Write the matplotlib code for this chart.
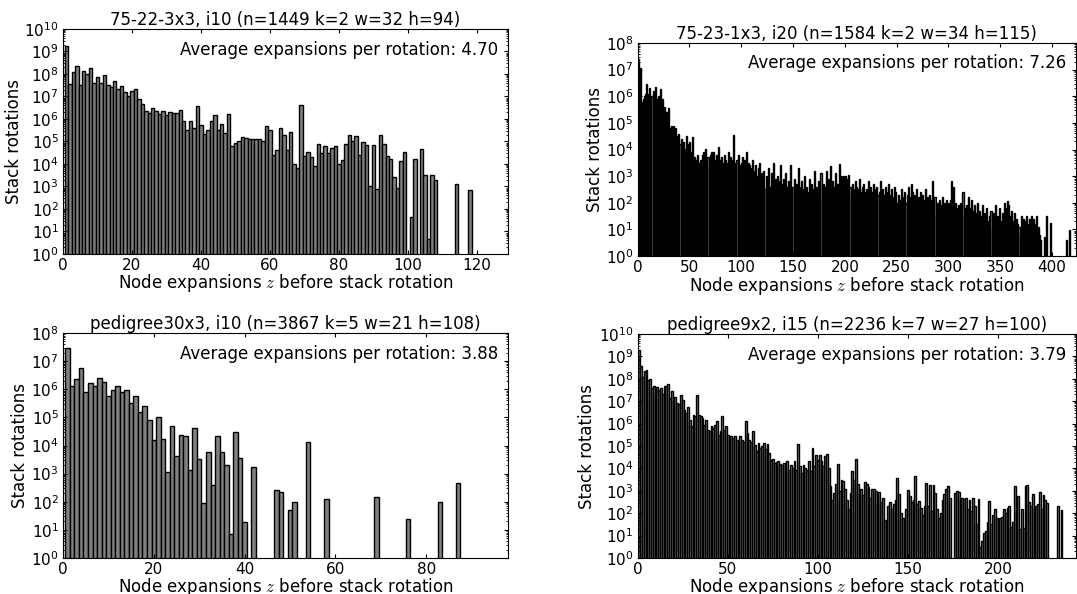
import numpy as np
import matplotlib
matplotlib.use('Agg')
import matplotlib.pyplot as plt
from matplotlib.ticker import LogLocator, NullFormatter

plt.rcParams['font.family'] = ['DejaVu Sans']
plt.rcParams['mathtext.fontset'] = 'cm'

# ---------------- data (log10 of stack-rotation counts, z = 1, 2, ...; 0 = empty bin) -------------
tl_title = "75-22-3x3, i10 (n=1449 k=2 w=32 h=94)"
tl_avg = "4.70"
tl_exp = [
    9.26, 7.54, 8.07, 8.35, 7.5, 8.15, 7.98, 8.28, 7.6, 7.86,
    7.62, 7.94, 7.5, 7.42, 7.69, 7.33, 7.45, 7.18, 7.0, 7.24,
    7.33, 6.88, 6.66, 6.34, 6.26, 6.48, 6.37, 6.23, 6.34, 6.19,
    6.29, 6.26, 6.26, 6.4, 5.93, 5.52, 5.9, 5.6, 6.59, 5.74,
    5.34, 5.49, 5.93, 6.19, 5.52, 5.79, 5.37, 6.23, 4.78, 4.93,
    5.04, 5.19, 5.16, 5.1, 5.13, 5.13, 5.1, 5.0, 5.67, 5.52,
    4.41, 4.6, 5.59, 5.27, 4.6, 5.43, 3.99, 3.83, 6.62, 4.36,
    4.53, 4.3, 3.89, 4.87, 4.51, 4.78, 4.48, 4.72, 4.81, 4.02,
    4.18, 4.9, 5.28, 5.01, 5.25, 4.38, 4.99, 4.85, 3.01, 4.84,
    2.88, 5.31, 4.9, 4.36, 4.21, 3.41, 2.95, 4.12, 4.54, 0,
    1.65, 4.21, 0, 4.66, 3.53, 0.65, 3.49, 3.29, 0, 0,
    0, 0, 0, 3.12, 0, 0, 0, 2.85, 0,
]

tr_title = "75-23-1x3, i20 (n=1584 k=2 w=34 h=115)"
tr_avg = "7.26"
tr_exp = [
    7.4, 5.6, 7.05, 5.6, 5.8, 5.9, 6.0, 6.1, 6.45, 5.9,
    6.1, 6.3, 5.7, 6.0, 6.2, 5.8, 6.35, 5.9, 5.6, 6.0,
    5.7, 6.27, 5.5, 5.9, 5.4, 5.6, 5.3, 5.4, 5.2, 5.55,
    4.8, 4.7, 4.9, 4.6, 4.9, 4.7, 4.8, 4.5, 4.4, 4.6,
    4.2, 4.4, 4.1, 4.3, 4.0, 3.9, 4.5, 4.2, 3.9, 4.3,
    3.9, 3.6, 4.48, 3.5, 3.7, 3.4, 3.6, 3.8, 3.5, 3.4,
    3.6, 3.3, 3.8, 3.9, 3.5, 4.0, 3.6, 3.7, 3.4, 3.8,
    3.9, 3.5, 3.9, 3.3, 3.6, 3.8, 3.2, 4.1, 3.6, 3.4,
    3.7, 3.5, 3.3, 3.8, 3.6, 3.1, 3.5, 3.9, 3.4, 3.7,
    3.3, 3.6, 4.55, 3.5, 3.2, 3.6, 3.8, 3.4, 3.0, 3.5,
    3.7, 3.2, 3.6, 3.3, 3.9, 3.1, 3.5, 3.4, 2.9, 3.3,
    3.6, 3.2, 2.8, 3.4, 3.0, 2.6, 3.3, 3.5, 2.7, 3.1,
    2.9, 3.2, 2.5, 3.0, 2.8, 3.3, 2.6, 2.4, 3.1, 2.7,
    3.5, 2.6, 2.9, 2.2, 3.0, 2.5, 2.8, 3.4, 2.1, 2.7,
    2.9, 2.4, 3.1, 2.6, 2.3, 2.8, 2.5, 3.4, 2.2, 2.6,
    2.9, 2.1, 2.7, 2.4, 3.3, 2.6, 1.9, 2.8, 2.3, 2.5,
    3.0, 2.2, 2.6, 1.6, 2.4, 2.9, 2.1, 2.7, 1.2, 2.5,
    3.2, 2.3, 2.6, 1.8, 2.8, 2.4, 3.1, 2.2, 2.7, 2.0,
    2.6, 3.2, 2.4, 2.9, 2.1, 3.37, 2.5, 2.8, 2.3, 2.6,
    3.1, 2.2, 2.7, 2.4, 3.47, 2.9, 3.0, 2.5, 3.0, 2.8,
    3.0, 2.4, 2.9, 3.05, 2.6, 2.3, 2.7, 2.5, 2.2, 2.8,
    2.6, 2.5, 2.3, 2.9, 2.4, 2.2, 2.6, 2.7, 2.4, 2.1,
    2.5, 2.3, 2.8, 2.0, 2.6, 2.4, 2.2, 2.7, 2.5, 2.1,
    2.6, 2.3, 2.4, 2.8, 2.0, 2.5, 2.2, 2.3, 2.6, 1.9,
    2.4, 2.7, 2.1, 2.3, 2.5, 1.8, 2.2, 2.6, 2.4, 2.0,
    1.6, 2.3, 2.1, 1.9, 2.5, 2.2, 1.5, 2.4, 2.0, 2.3,
    2.6, 1.9, 2.2, 2.7, 2.4, 2.0, 2.3, 1.7, 2.5, 2.1,
    2.2, 1.8, 2.4, 2.0, 2.3, 1.6, 2.1, 2.5, 1.9, 2.2,
    2.0, 2.3, 1.7, 2.1, 2.83, 1.9, 2.2, 1.5, 2.0, 1.8,
    2.1, 1.6, 1.9, 2.2, 1.7, 2.0, 1.4, 2.1, 1.8, 2.0,
    1.7, 2.1, 2.8, 1.9, 2.6, 1.5, 2.0, 1.8, 1.6, 1.9,
    1.4, 2.0, 1.7, 2.4, 1.5, 1.8, 1.9, 1.6, 2.2, 1.3,
    1.8, 2.1, 1.5, 1.7, 1.9, 1.2, 1.6, 2.0, 1.4, 1.7,
    0.8, 1.5, 1.9, 1.2, 1.6, 1.0, 1.8, 1.3, 0.9, 1.5,
    1.7, 1.1, 1.6, 1.4, 1.9, 1.0, 1.5, 1.2, 1.8, 1.3,
    0.7, 1.6, 1.4, 2.0, 1.1, 1.8, 2.05, 1.9, 1.2, 1.5,
    1.7, 1.0, 1.3, 1.6, 0.9, 1.4, 1.2, 1.1, 0.8, 1.5,
    1.2, 1.4, 1.0, 1.3, 1.5, 0.6, 1.2, 1.4, 1.3, 1.5,
    0.9, 1.4, 1.0, 1.2, 1.5, 0.7, 1.1, 0.8, 0.6, 0,
    0, 0, 0.7, 0, 1.5, 0, 0, 1.23, 0, 0,
    0, 0, 0, 0, 0, 0, 0, 0, 0, 0,
    0, 0, 0, 0.6, 0, 0, 0.98, 0, 0,
]

bl_title = "pedigree30x3, i10 (n=3867 k=5 w=21 h=108)"
bl_avg = "3.88"
bl_exp = [
    7.48, 6.13, 6.35, 6.76, 5.89, 6.23, 6.13, 6.4, 6.25, 5.75,
    5.98, 6.13, 5.89, 5.99, 5.5, 5.77, 5.18, 5.42, 4.92, 4.2,
    5.02, 4.23, 3.07, 4.7, 3.63, 4.39, 4.33, 3.14, 4.62, 3.51,
    1.96, 3.76, 2.6, 4.32, 3.77, 3.32, 0.86, 4.48, 3.56, 1.29,
    0, 3.25, 0, 0, 0, 0, 2.43, 2.36, 0, 1.7,
    2.0, 0, 0, 4.13, 0, 0, 0, 2.08, 0, 0,
    0, 0, 0, 0, 0, 0, 0, 0, 2.17, 0,
    0, 0, 0, 0, 0, 1.4, 0, 0, 0, 0,
    0, 0, 2.0, 0, 0, 0, 2.65,
]

br_title = "pedigree9x2, i15 (n=2236 k=7 w=27 h=100)"
br_avg = "3.79"
br_exp = [
    9.3, 8.56, 8.1, 8.33, 8.4, 7.96, 8.0, 7.6, 7.66, 7.2,
    7.63, 7.5, 7.6, 7.3, 7.66, 7.7, 7.78, 7.14, 7.44, 7.07,
    7.2, 6.92, 6.89, 7.29, 7.07, 6.62, 6.47, 6.74, 6.18, 5.91,
    6.4, 6.32, 7.26, 6.4, 6.32, 6.25, 5.95, 6.18, 5.73, 5.65,
    5.88, 5.8, 5.95, 6.1, 5.5, 5.65, 6.32, 5.73, 5.88, 5.5,
    5.31, 5.43, 5.36, 5.46, 5.28, 5.13, 5.43, 5.28, 5.2, 6.1,
    5.58, 5.28, 5.2, 5.65, 5.06, 4.76, 5.13, 4.91, 4.99, 5.13,
    4.87, 5.1, 4.69, 4.39, 4.42, 4.24, 4.27, 4.32, 4.2, 4.17,
    4.24, 4.09, 4.32, 3.94, 4.17, 4.02, 4.32, 3.94, 5.09, 4.09,
    3.79, 4.17, 4.02, 3.91, 4.32, 3.87, 4.91, 4.09, 4.61, 4.39,
    4.6, 4.35, 4.1, 4.55, 4.65, 4.0, 3.2, 2.6, 2.9, 3.3,
    4.2, 3.0, 3.5, 3.45, 3.1, 2.6, 2.2, 2.9, 3.9, 3.5,
    4.4, 3.3, 2.9, 3.1, 2.8, 3.4, 3.3, 3.15, 2.7, 3.1,
    3.1, 3.0, 2.4, 2.95, 2.5, 2.7, 1.7, 1.65, 2.3, 2.5,
    2.2, 2.4, 2.6, 3.55, 2.85, 2.0, 1.8, 1.75, 2.2, 3.05,
    2.75, 2.5, 2.6, 3.65, 2.4, 2.55, 2.25, 1.9, 2.3, 3.35,
    2.3, 3.25, 2.1, 3.24, 2.9, 2.2, 1.8, 2.0, 2.6, 2.85,
    3.1, 3.2, 2.7, 0, 0, 2.9, 3.0, 2.95, 2.6, 2.7,
    2.65, 2.7, 2.2, 2.6, 2.1, 2.68, 2.3, 1.5, 2.63, 0.5,
    0.75, 1.1, 1.2, 1.6, 2.55, 1.5, 1.9, 2.2, 1.8, 1.7,
    1.8, 1.85, 2.2, 2.0, 2.25, 2.3, 1.4, 1.6, 3.2, 2.1,
    2.75, 1.3, 2.2, 1.35, 3.2, 3.25, 2.5, 2.3, 2.85, 2.1,
    2.3, 2.4, 2.95, 2.2, 2.8, 2.6, 2.45, 0, 0, 0,
    0, 0, 2.3, 0, 2.15, 0,
]

xlabel = "Node expansions $z$ before stack rotation"
ylabel = "Stack rotations"

# ---------------- layout ----------------
fig = plt.figure(figsize=(10.77, 5.94), dpi=100)
W, H = 1077.0, 594.0

def rect(l, t, r, b):
    return [l / W, 1 - b / H, (r - l) / W, (b - t) / H]

panels = [
    (rect(63, 29, 508, 254), tl_exp, tl_title, tl_avg, 129, 10,
     [0, 20, 40, 60, 80, 100, 120], -0.090, -0.078),
    (rect(637.5, 43, 1076, 256), tr_exp, tr_title, tr_avg, 423, 8,
     [0, 50, 100, 150, 200, 250, 300, 350, 400], -0.076, -0.087),
    (rect(63, 333, 508, 558), bl_exp, bl_title, bl_avg, 98, 8,
     [0, 20, 40, 60, 80], -0.076, -0.080),
    (rect(637.5, 334, 1076, 558), br_exp, br_title, br_avg, 243, 10,
     [0, 50, 100, 150, 200], -0.095, -0.080),
]

for r, exps, title, avg, xmax, ydec, xticks, ylx, xly in panels:
    ax = fig.add_axes(r)
    z = np.arange(1, len(exps) + 1)
    counts = np.array([10.0 ** e if e > 0 else 0.0 for e in exps])
    m = counts > 0
    ax.set_yscale('log')
    ax.bar(z[m], counts[m], width=1.0, align='center', bottom=1e-3,
           facecolor='#808080', edgecolor='black', linewidth=1.0)
    ax.set_xlim(0, xmax)
    ax.set_ylim(1, 10.0 ** ydec)
    ax.set_xticks(xticks)
    ax.yaxis.set_major_locator(LogLocator(base=10, numticks=20))
    ax.yaxis.set_minor_locator(LogLocator(base=10, subs=np.arange(2, 10), numticks=20))
    ax.yaxis.set_minor_formatter(NullFormatter())
    ax.tick_params(which='both', direction='in', top=True, right=True, labelsize=11)
    ax.tick_params(which='major', length=3, width=0.8, pad=3)
    ax.tick_params(which='minor', length=1.5, width=0.6)
    ax.set_title(title, fontsize=12, pad=2.5)
    ax.text(0.978, 0.907, "Average expansions per rotation: " + avg, transform=ax.transAxes,
            ha='right', va='center', fontsize=12)
    ax.set_xlabel(xlabel, fontsize=12)
    ax.set_ylabel(ylabel, fontsize=12)
    ax.xaxis.set_label_coords(0.5, xly)
    ax.yaxis.set_label_coords(ylx, 0.5)

fig.savefig('out.png', dpi=100)
